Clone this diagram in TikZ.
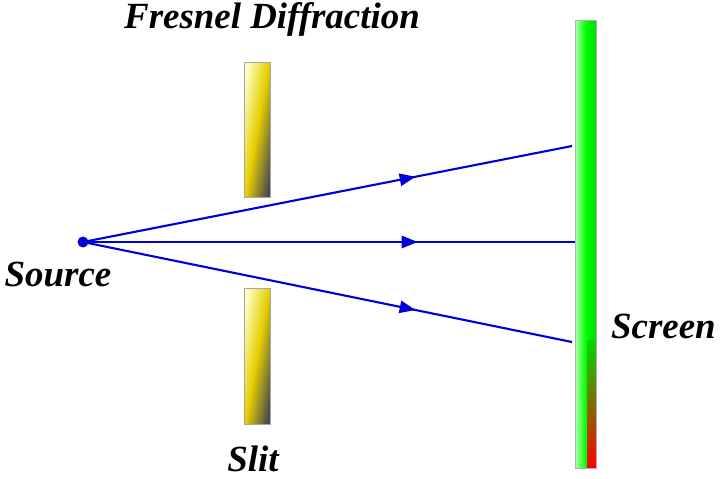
\documentclass[tikz,border=0pt]{standalone}
\usepackage{fontspec}
\setmainfont{Liberation Serif}
\usetikzlibrary{decorations.markings,arrows.meta}
\tikzset{
  ray/.style={draw=blue!85!black, line width=1.2pt,
    postaction={decorate}, decoration={markings,
      mark=at position 0.68 with {\arrow{Triangle[length=9pt,width=7pt]}}}},
  lbl/.style={font=\fontsize{21}{24}\selectfont\bfseries\itshape},
  slitbar/.style={draw=gray!70, left color=yellow!20, right color=gray!60!black,
    middle color=orange!20!yellow!90!black, shading angle=80}
}
\begin{document}
\begin{tikzpicture}[x=0.02cm, y=-0.02cm]
  \useasboundingbox (0,0) rectangle (720,478);
  % slits
  \shade[slitbar] (244,62) rectangle (270,197);
  \shade[slitbar] (244,288) rectangle (270,424);
  % screen
  \shade[left color=green!30, right color=green!85!black, middle color=green] (575,20) rectangle (596,468);
  \shade[top color=green!85!black, bottom color=red] (587,340) rectangle (596,468);
  \draw[gray!60] (575,20) rectangle (596,468);
  % source and screen points
  \node[circle, fill=blue!85!black, inner sep=2.2pt] (src) at (83,242) {};
  \coordinate (hitA) at (572,146);
  \coordinate (hitB) at (575,242);
  \coordinate (hitC) at (572,342);
  \draw[ray] (src.center) -- (hitA);
  \draw[ray] (src.center) -- (hitB);
  \draw[ray] (src.center) -- (hitC);
  % labels
  \node[lbl] (title) at (272,19) {Fresnel Diffraction};
  \node[lbl] (srclbl) at (58,274) {Source};
  \node[lbl] (slitlbl) at (253,459) {Slit};
  \node[lbl, anchor=west] (scrlbl) at (605,326) {Screen};
\end{tikzpicture}
\end{document}
